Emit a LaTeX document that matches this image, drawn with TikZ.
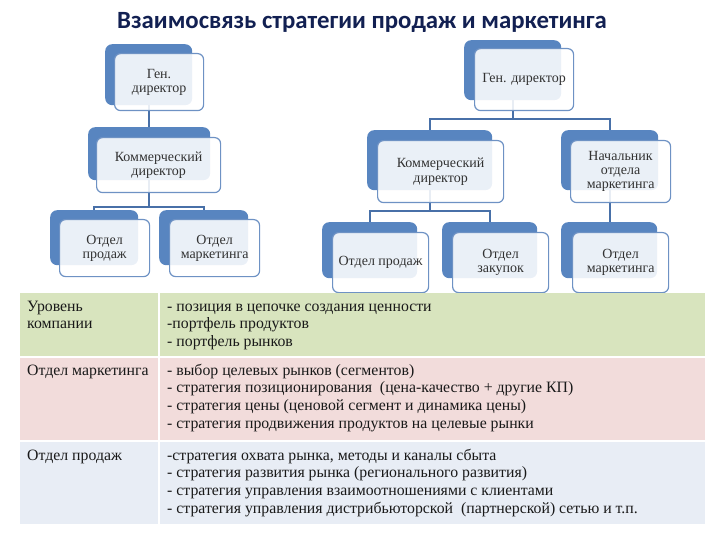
\documentclass[tikz,border=0pt]{standalone}
\usepackage{fontspec}
\setmainfont{Liberation Serif}
\newfontfamily\titlefont{Carlito}
\definecolor{orgblue}{RGB}{88,133,192}
\definecolor{orgline}{RGB}{110,146,196}
\definecolor{connblue}{RGB}{72,112,168}
\definecolor{titlecol}{RGB}{18,32,82}
\definecolor{rowgreen}{RGB}{216,228,190}
\definecolor{rowpink}{RGB}{242,220,219}
\definecolor{rowblue}{RGB}{232,237,245}
\definecolor{orgtext}{RGB}{50,50,50}
\definecolor{tabtext}{RGB}{25,25,25}
\begin{document}
\begin{tikzpicture}[x=1pt,y=-1pt,
  backbox/.style={draw=none, fill=orgblue, rounded corners=7pt, inner sep=0pt, anchor=north west},
  frontbox/.style={draw=orgline, line width=1.2pt, fill=white, fill opacity=0.88, text opacity=1,
    rounded corners=6pt, inner sep=0pt, anchor=north west, align=center, text=orgtext,
    font=\fontsize{14}{14.2}\selectfont},
  conn/.style={draw=connblue, line width=1.8pt},
  cell/.style={anchor=base west, inner sep=0pt, align=left, text=tabtext,
    font=\fontsize{15.8}{17.7}\selectfont},
  gridline/.style={draw=white, line width=1.5pt}
]
\useasboundingbox (0,0) rectangle (720,540);

% title
\node[anchor=base, text=titlecol, font=\titlefont\bfseries\fontsize{24.8}{27}\selectfont] (title) at (362,28.3) {Взаимосвязь стратегии продаж и маркетинга};

% ---------- left tree: back boxes
\node[backbox, minimum width=87pt, minimum height=61pt] (gen1b) at (105,44) {};
\node[backbox, minimum width=122pt, minimum height=53pt] (kom1b) at (88,127) {};
\node[backbox, minimum width=88pt, minimum height=55pt] (op1b) at (50,210) {};
\node[backbox, minimum width=89pt, minimum height=55pt] (mk1b) at (159,210) {};

% ---------- right tree: back boxes
\node[backbox, minimum width=97pt, minimum height=60pt] (gen2b) at (464,40) {};
\node[backbox, minimum width=125pt, minimum height=60pt] (kom2b) at (367,130) {};
\node[backbox, minimum width=97pt, minimum height=60pt] (nachb) at (561,130) {};
\node[backbox, minimum width=95pt, minimum height=56pt] (op2b) at (322,222) {};
\node[backbox, minimum width=95pt, minimum height=56pt] (zakb) at (442,222) {};
\node[backbox, minimum width=96pt, minimum height=56pt] (mk2b) at (561,222) {};

% ---------- connectors
\draw[conn] (gen1b.south) -- (gen1b.south |- kom1b.north);
\draw[conn] (kom1b.south) -- ++(0,27) -| (op1b.north);
\draw[conn] (kom1b.south) -- ++(0,27) -| (mk1b.north);
\draw[conn] (gen2b.south) -- ++(0,19) -| (kom2b.north);
\draw[conn] (gen2b.south) -- ++(0,19) -| (nachb.north);
\draw[conn] (kom2b.south) -- ++(0,21) -| (op2b.north);
\draw[conn] (kom2b.south) -- ++(0,21) -| (zakb.north);
\draw[conn] (nachb.south) -- (nachb.south |- mk2b.north);

% ---------- front boxes
\node[frontbox, minimum width=89pt, minimum height=57pt] (gen1) at (114,53) {Ген.\\директор};
\node[frontbox, minimum width=124pt, minimum height=55pt] (kom1) at (96,137) {Коммерческий\\директор};
\node[frontbox, minimum width=90pt, minimum height=57pt] (op1) at (59,219) {Отдел\\продаж};
\node[frontbox, minimum width=90pt, minimum height=57pt] (mk1) at (169,219) {Отдел\\маркетинга};

\node[frontbox, minimum width=99pt, minimum height=62pt] (gen2) at (474,48) {Ген. директор};
\node[frontbox, minimum width=126pt, minimum height=62pt] (kom2) at (377,140) {Коммерческий\\директор};
\node[frontbox, minimum width=100pt, minimum height=62pt] (nach) at (570,140) {Начальник\\отдела\\маркетинга};
\node[frontbox, minimum width=96pt, minimum height=60pt] (op2) at (332,232) {Отдел продаж};
\node[frontbox, minimum width=96pt, minimum height=60pt] (zak) at (452,232) {Отдел\\закупок};
\node[frontbox, minimum width=96pt, minimum height=60pt] (mk2) at (572,232) {Отдел\\маркетинга};

% ---------- table
\fill[rowgreen] (20,293) rectangle (705,357);
\fill[rowpink] (20,357) rectangle (705,441);
\fill[rowblue] (20,441) rectangle (705,524);
\draw[gridline] (159,293) -- (159,524);
\draw[gridline] (20,357) -- (705,357);
\draw[gridline] (20,441) -- (705,441);

% multi-line cells: anchor is the baseline of the last line
\node[cell] (r1l) at (27,328.7) {Уровень\\компании};
\node[cell] (r1r) at (167,346.4) {- позиция в цепочке создания ценности\\-портфель продуктов\\- портфель рынков};
\node[cell] (r2l) at (27,375) {Отдел маркетинга};
\node[cell] (r2r) at (167,428.1) {- выбор целевых рынков (сегментов)\\- стратегия позиционирования\ \ (цена-качество + другие КП)\\- стратегия цены (ценовой сегмент и динамика цены)\\- стратегия продвижения продуктов на целевые рынки};
\node[cell] (r3l) at (27,460) {Отдел продаж};
\node[cell] (r3r) at (167,513.1) {-стратегия охвата рынка, методы и каналы сбыта\\- стратегия развития рынка (регионального развития)\\- стратегия управления взаимоотношениями с клиентами\\- стратегия управления дистрибьюторской\ \ (партнерской) сетью и т.п.};
\end{tikzpicture}
\end{document}
